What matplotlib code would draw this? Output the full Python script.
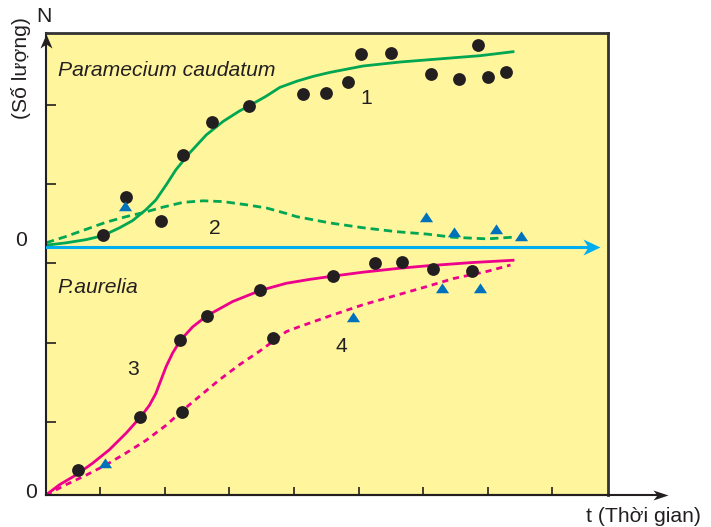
import matplotlib
matplotlib.use("Agg")
import matplotlib.pyplot as plt
import numpy as np
from matplotlib.path import Path

plt.rcParams["font.family"] = ["Liberation Sans", "DejaVu Sans"]

# ---- data (time t, population N) ----
# Paramecium caudatum grown alone: observations (circles) and fitted curve 1
pc_alone_t = [0.89, 1.24, 1.78, 2.12, 2.57, 3.14, 3.98, 4.34, 4.68, 4.87, 5.34, 5.96, 6.39, 6.69, 6.85, 7.12]
pc_alone_n = [0.15, 0.63, 0.33, 1.16, 1.57, 1.77, 1.93, 1.94, 2.08, 2.43, 2.44, 2.18, 2.12, 2.54, 2.14, 2.21]
curve1_t = [0, 0.31, 0.62, 0.88, 1.14, 1.34, 1.55, 1.70, 1.86, 2.01, 2.22, 2.48, 2.74, 2.99, 3.15,
            3.41, 3.62, 3.89, 4.14, 4.40, 4.91, 5.48, 6.10, 6.72, 7.23]
curve1_n = [0.02, 0.05, 0.09, 0.14, 0.24, 0.33, 0.47, 0.59, 0.78, 0.97, 1.18, 1.41, 1.58, 1.71, 1.78,
            1.90, 2.01, 2.09, 2.15, 2.20, 2.28, 2.33, 2.37, 2.41, 2.46]

# Paramecium caudatum grown together with P. aurelia: triangles and curve 2
pc_mixed_t = [1.23, 5.89, 6.32, 6.97, 7.35]
pc_mixed_n = [0.51, 0.38, 0.19, 0.23, 0.14]
curve2_t = [0, 0.31, 0.62, 0.93, 1.24, 1.50, 1.81, 2.12, 2.43, 2.74, 3.10, 3.41, 3.72, 3.88, 4.40,
            4.91, 5.43, 5.90, 6.30, 6.83, 7.21]
curve2_n = [0.05, 0.13, 0.22, 0.31, 0.38, 0.43, 0.50, 0.56, 0.58, 0.57, 0.53, 0.49, 0.42, 0.38, 0.30,
            0.24, 0.19, 0.16, 0.12, 0.10, 0.12]

# P. aurelia: circles and triangles, curves 3 (alone) and 4 (mixed)
pa_circ_t = [0.50, 1.46, 2.08, 2.49, 3.31, 4.44, 5.10, 5.51, 5.99, 6.60, 2.10, 3.52]
pa_circ_n = [0.32, 0.98, 1.95, 2.26, 2.58, 2.76, 2.92, 2.94, 2.85, 2.83, 1.05, 1.98]
pa_tri_t = [0.91, 4.76, 6.13, 6.72]
pa_tri_n = [0.40, 2.24, 2.61, 2.61]
curve3_t = [0, 0.21, 0.46, 0.72, 0.98, 1.24, 1.47, 1.60, 1.70, 1.78, 1.86, 1.96, 2.08, 2.27, 2.49,
            2.89, 3.32, 3.72, 4.09, 4.44, 4.91, 5.48, 5.90, 6.57, 7.23]
curve3_n = [0, 0.13, 0.25, 0.40, 0.57, 0.78, 0.99, 1.13, 1.28, 1.45, 1.62, 1.79, 1.95, 2.12, 2.26,
            2.44, 2.58, 2.67, 2.72, 2.76, 2.81, 2.86, 2.89, 2.93, 2.96]
curve4_t = [0, 0.31, 0.62, 0.93, 1.24, 1.55, 1.86, 2.12, 2.37, 2.68, 2.99, 3.30, 3.72, 3.88, 4.40,
            4.91, 5.43, 5.90, 6.31, 6.83, 7.19]
curve4_n = [0, 0.13, 0.25, 0.38, 0.53, 0.69, 0.88, 1.07, 1.24, 1.45, 1.64, 1.81, 2.06, 2.11, 2.26,
            2.40, 2.52, 2.63, 2.73, 2.82, 2.90]

# the upper panel (P. caudatum) sits on its own zero line
upper_zero = 3.13
x_ticks = 0.84 + np.arange(8)
y_ticks = 0.92 + np.arange(5)

# ---- colours ----
bg = "#FFF59D"
green = "#00A651"
pink = "#EC008C"
tri_blue = "#0072BC"
cyan = "#00AEEF"
ink = "#231F20"

fig = plt.figure(figsize=(7.11, 5.27), dpi=100)
ax = fig.add_axes([46 / 711, 32 / 527, 562 / 711, 462 / 527])
ax.set_xlim(0, 8.70)
ax.set_ylim(0, 5.826)
ax.set_facecolor(bg)

for side in ("top", "right"):
    ax.spines[side].set_color("#333333")
    ax.spines[side].set_linewidth(2.0)
for side in ("left", "bottom"):
    ax.spines[side].set_color(ink)
    ax.spines[side].set_linewidth(1.5)

ax.set_xticks(x_ticks)
ax.set_yticks(y_ticks)
ax.set_xticklabels([])
ax.set_yticklabels([])
ax.tick_params(axis="x", direction="in", length=6, width=1.2, color=ink)
ax.tick_params(axis="y", direction="in", length=7.5, width=1.2, color=ink)

# arrow heads (tip at the origin of the path)
def head(verts):
    codes = [Path.MOVETO, Path.LINETO, Path.LINETO, Path.LINETO, Path.CLOSEPOLY]
    return Path(verts + [verts[0]], codes)

head_right = head([(0, 0), (-15, 5), (-11, 0), (-15, -5)])
head_up = head([(0, 0), (-6, -14), (0, -10), (6, -14)])
head_blue = head([(0, 0), (-17, 8), (-12, 0), (-17, -8)])

# time axis with arrow beyond the frame
ax.plot([0, 9.5], [0, 0], color=ink, lw=1.5, clip_on=False, zorder=5)
ax.plot([9.63], [0], marker=head_right, ms=21.6, color=ink, mec="none", clip_on=False, zorder=6)
# population axis arrow
ax.plot([0], [5.81], marker=head_up, ms=20.2, color=ink, mec="none", clip_on=False, zorder=6)

# zero line of the upper panel
ax.plot([0, 8.45], [upper_zero, upper_zero], color=cyan, lw=2.2, zorder=3)
ax.plot([8.58], [upper_zero], marker=head_blue, ms=24.5, color=cyan, mec="none", zorder=3)

up = lambda v: np.asarray(v) + upper_zero

line_kw = dict(lw=2.0, solid_joinstyle="round", dash_joinstyle="round", zorder=2)
ax.plot(curve1_t, up(curve1_n), color=green, **line_kw)
ax.plot(curve2_t, up(curve2_n), color=green, dashes=(3.0, 1.8), **line_kw)
ax.plot(curve3_t, curve3_n, color=pink, **line_kw)
ax.plot(curve4_t, curve4_n, color=pink, dashes=(2.2, 1.8), **line_kw)

tri = [(-1, -0.72), (1, -0.72), (0, 0.78)]
ax.scatter(pc_alone_t, up(pc_alone_n), s=85, color=ink, zorder=4, linewidths=0)
ax.scatter(pa_circ_t, pa_circ_n, s=85, color=ink, zorder=4, linewidths=0)
ax.scatter(pc_mixed_t, up(pc_mixed_n), s=90, marker=tri, color=tri_blue, zorder=4, linewidths=0)
ax.scatter(pa_tri_t, pa_tri_n, s=90, marker=tri, color=tri_blue, zorder=4, linewidths=0)

# labels inside the frame
fs = 15.2
ax.text(0.18, 5.28, "Paramecium caudatum", fontsize=fs, style="italic", color=ink, ha="left", va="baseline")
ax.text(0.17, 2.55, "P.aurelia", fontsize=fs, style="italic", color=ink, ha="left", va="baseline")
ax.text(4.96, 5.00, "1", fontsize=fs, color=ink, ha="center", va="center")
ax.text(2.62, 3.36, "2", fontsize=fs, color=ink, ha="center", va="center")
ax.text(1.35, 1.58, "3", fontsize=fs, color=ink, ha="center", va="center")
ax.text(4.58, 1.87, "4", fontsize=fs, color=ink, ha="center", va="center")

# labels around the axes (pixel positions)
def fpos(px, py):
    return px / 711, 1 - py / 527

fig.text(*fpos(43.5, 16.5), "N", fontsize=fs, color=ink, ha="center", va="center")
fig.text(*fpos(21.5, 68), "(Số lượng)", fontsize=fs, color=ink, ha="center", va="center", rotation=90)
fig.text(*fpos(21.5, 241), "0", fontsize=fs, color=ink, ha="center", va="center")
fig.text(*fpos(31.5, 492.5), "0", fontsize=fs, color=ink, ha="center", va="center")
fig.text(*fpos(643, 516), "t (Thời gian)", fontsize=fs, color=ink, ha="center", va="center")

fig.savefig("out.png", dpi=100, facecolor="white")
